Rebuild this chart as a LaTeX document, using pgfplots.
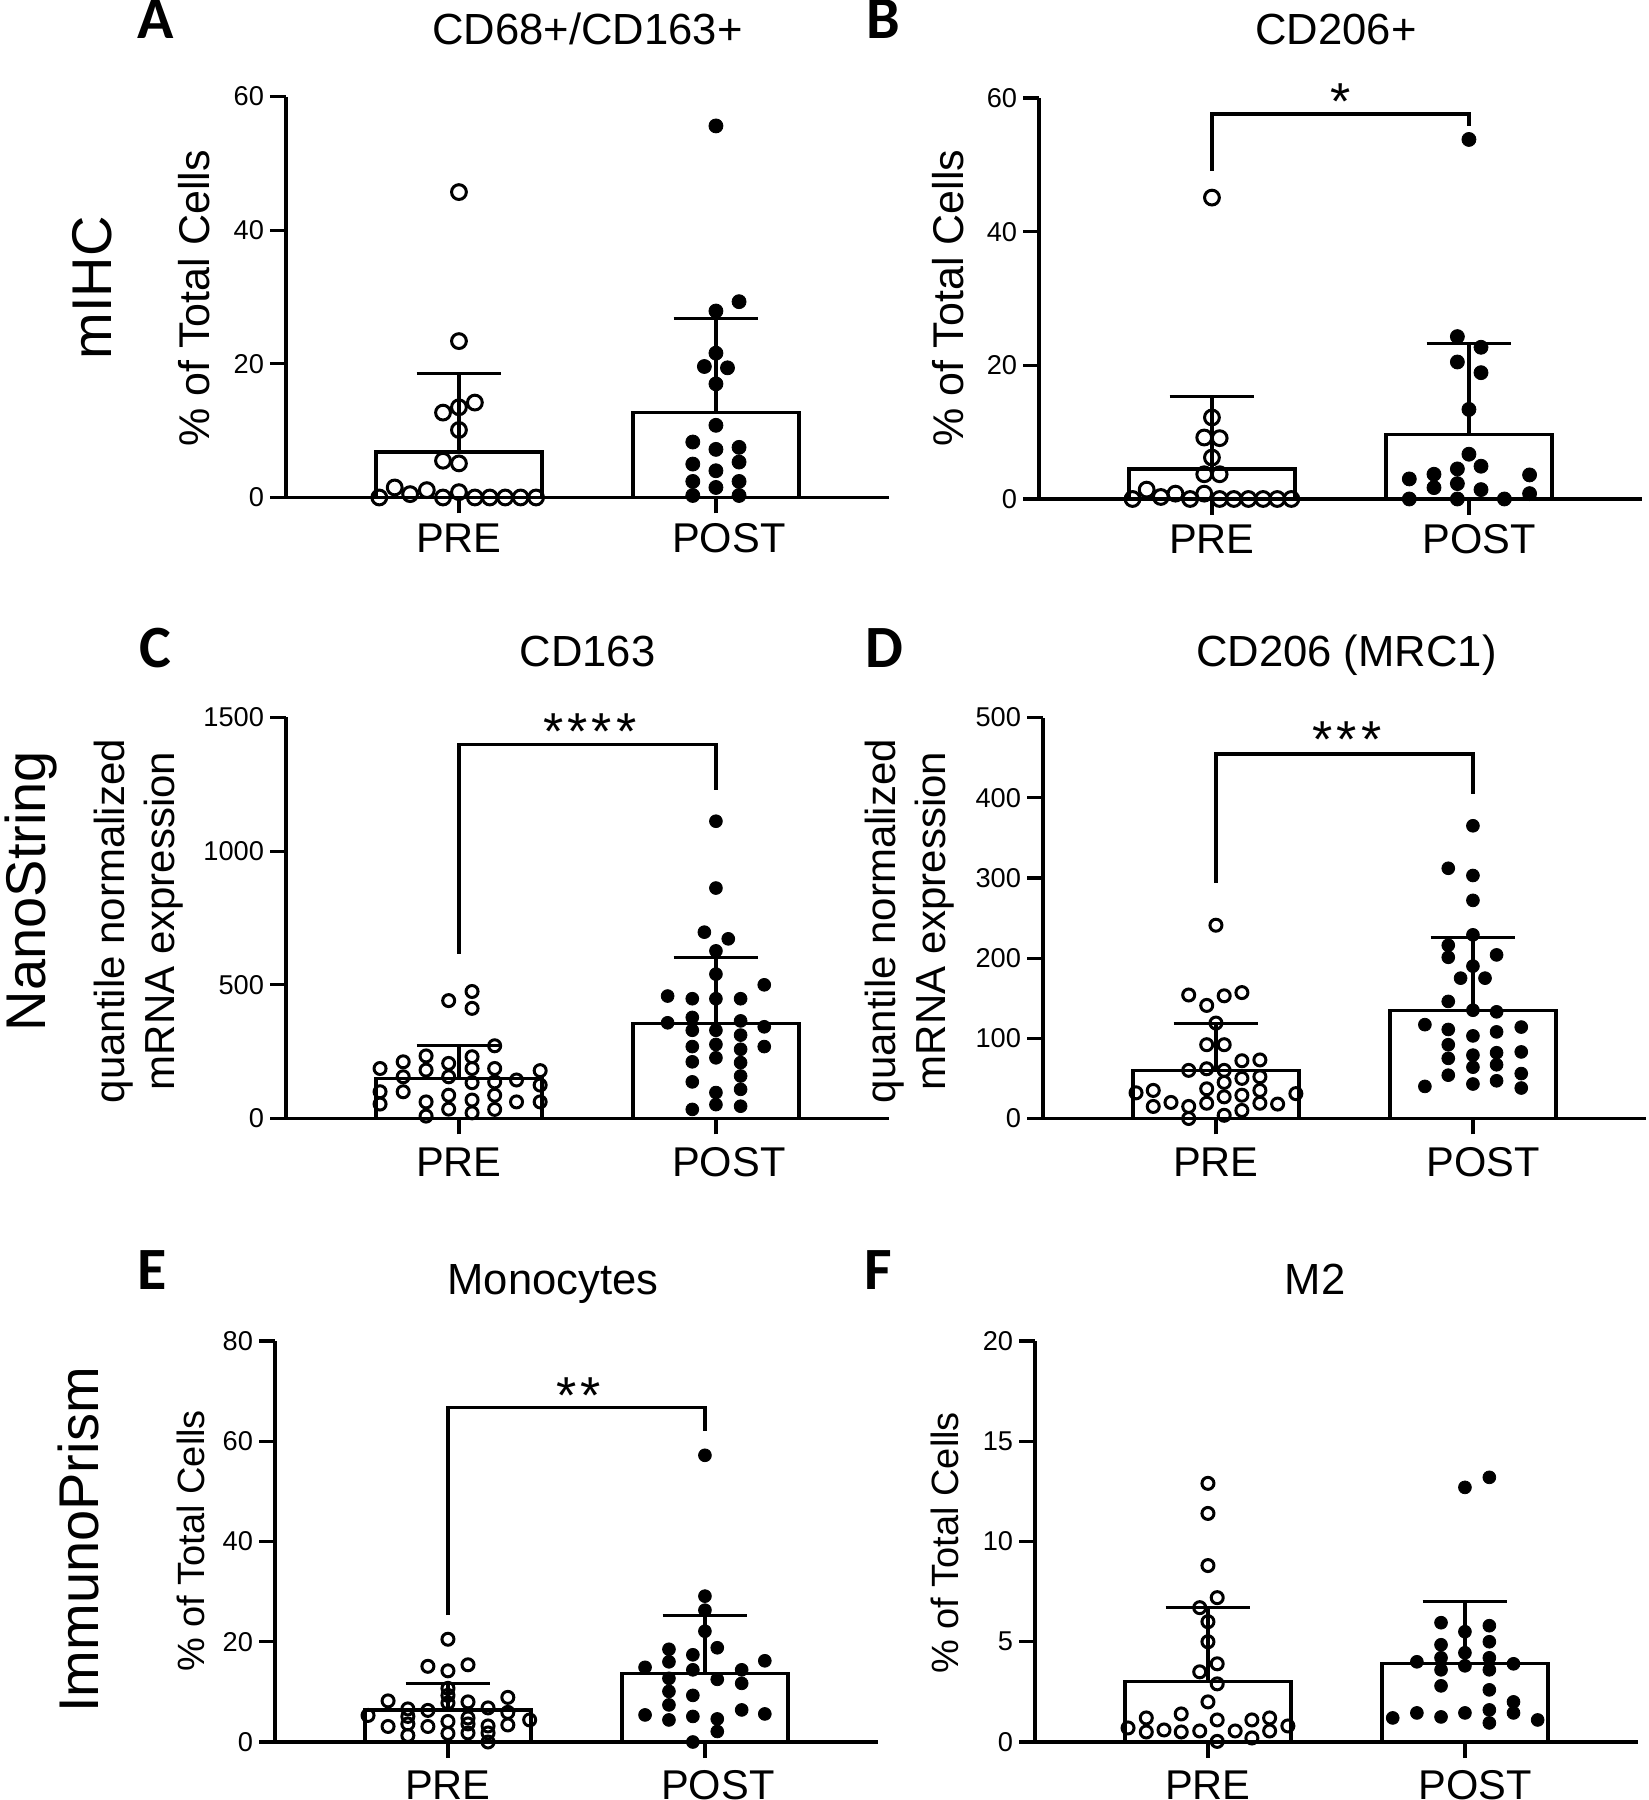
\documentclass[border=0pt]{standalone}
\usepackage{pgfplots}
\pgfplotsset{compat=1.18}
\usepackage{fontspec}
\setmainfont{Liberation Sans}
\newfontfamily\letterfont{Carlito}
\pgfplotsset{
 gp/.style={
  scale only axis, width=150.85pt, height=100.25pt, anchor=south west,
  xmin=-0.673, xmax=1.675, ymin=0,
  axis x line=bottom, axis y line=left,
  axis line style={-, line width=0.8pt, black},
  every outer x axis line/.append style={-},
  every outer y axis line/.append style={-},
  tick align=outside, major tick length=4pt,
  tick style={line width=0.8pt, black},
  xtick={0,1}, xticklabels={},
  yticklabel style={font=\fontsize{6.8}{8}\selectfont, inner sep=1.3pt},
  /pgf/number format/assume math mode=true,
  /pgf/number format/1000 sep={},
  clip=false,
 },
 gpbar/.style={ybar, bar width=41.5pt, fill=white, draw=black, line width=0.8pt},
 eb/.style={black, line width=0.8pt, no markers},
 openA/.style={only marks, mark=o, mark size=1.85pt, mark options={line width=0.75pt, draw=black}},
 fullA/.style={only marks, mark=*, mark size=1.75pt, mark options={line width=0.2pt, draw=black, fill=black}},
 openS/.style={only marks, mark=o, mark size=1.5pt, mark options={line width=0.75pt, draw=black}},
 fullS/.style={only marks, mark=*, mark size=1.6pt, mark options={line width=0.2pt, draw=black, fill=black}},
}
\tikzset{
 catAB/.style={anchor=base, yshift=-13.75pt, font=\fontsize{10.4}{12}\selectfont},
 cat/.style={anchor=base, yshift=-14.4pt, font=\fontsize{10.4}{12}\selectfont},
 star/.style={anchor=base, yshift=-7.5pt, font=\fontsize{13}{14}\selectfont, inner sep=0pt},
 ttl/.style={anchor=base, font=\fontsize{10.9}{12}\selectfont, inner sep=0pt},
 let/.style={anchor=base, font=\letterfont\bfseries\fontsize{15}{16}\selectfont, inner sep=0pt},
 row/.style={anchor=base, rotate=90, font=\fontsize{14}{16}\selectfont, inner sep=0pt},
}
\begin{document}
\begin{tikzpicture}
\useasboundingbox (0,0) rectangle (412.25pt,450pt);

% ---------------- A ----------------
\begin{axis}[gp, at={(71.5pt,325.625pt)}, ymax=60, ytick={0,20,40,60}]
\addplot[gpbar] coordinates {(0,6.8) (1,12.7)};
\addplot[openA] coordinates {(0,45.7) (0,23.4) (-0.062,12.7) (0,13.5) (0.062,14.2) (0,10.1) (-0.062,5.5) (0,5.1)
 (-0.31,0) (-0.25,1.5) (-0.19,0.5) (-0.125,1.1) (-0.062,0) (0,0.8) (0.062,0) (0.12,0) (0.18,0) (0.24,0) (0.30,0)};
\addplot[fullA] coordinates {(1,55.6) (1.09,29.3) (1,27.9) (1,21.6) (0.955,19.6) (1.045,19.4) (1,17.0) (1,10.8)
 (0.91,8.3) (1,7.2) (1.09,7.5) (0.91,5.0) (1.09,5.3) (1,4.0) (0.91,2.4) (1.09,2.4) (1,1.5) (0.91,0.3) (1.09,0.3)};
\addplot[eb] coordinates {(0,6.8) (0,18.6)};
\addplot[eb] coordinates {(-0.165,18.6) (0.165,18.6)};
\addplot[eb] coordinates {(1,12.7) (1,26.8)};
\addplot[eb] coordinates {(0.835,26.8) (1.165,26.8)};
\node[catAB] at (axis cs:0,0) {PRE};
\node[catAB] at (axis cs:1.05,0) {POST};
\end{axis}

% ---------------- B ----------------
\begin{axis}[gp, at={(259.75pt,325.25pt)}, ymax=60, ytick={0,20,40,60}]
\addplot[gpbar] coordinates {(0,4.5) (1,9.6)};
\addplot[openA] coordinates {(0,45.1) (0,12.2) (-0.03,9.2) (0.03,9.1) (0,6.2) (-0.03,3.7) (0.03,3.7)
 (-0.309,0) (-0.254,1.4) (-0.199,0.3) (-0.142,0.8) (-0.085,0) (-0.03,0.8) (0.03,0) (0.085,0) (0.142,0) (0.199,0) (0.254,0) (0.309,0)};
\addplot[fullA] coordinates {(1,53.8) (0.955,24.3) (1.047,22.7) (0.955,20.5) (1.047,18.9) (1,13.4) (1,6.7)
 (0.955,4.5) (1.047,4.9) (0.864,3.7) (1.236,3.6) (0.768,3.0) (0.955,2.3) (0.864,1.7) (1.047,1.4) (1.236,0.8)
 (0.768,0) (0.955,0) (1.138,0)};
\addplot[eb] coordinates {(0,4.5) (0,15.3)};
\addplot[eb] coordinates {(-0.165,15.3) (0.165,15.3)};
\addplot[eb] coordinates {(1,9.6) (1,23.3)};
\addplot[eb] coordinates {(0.835,23.3) (1.165,23.3)};
\addplot[eb] coordinates {(0,49.1) (0,57.6) (1,57.6) (1,55.8)};
\node[star] at (axis cs:0.5,61.3) {*};
\node[catAB] at (axis cs:0,0) {PRE};
\node[catAB] at (axis cs:1.04,0) {POST};
\end{axis}

% ---------------- C ----------------
\begin{axis}[gp, at={(71.5pt,170.375pt)}, ymax=1500, ytick={0,500,1000,1500}]
\addplot[gpbar] coordinates {(0,150) (1,356)};
\addplot[openS] coordinates {
 (-0.307,187) (-0.307,100) (-0.307,54)
 (-0.217,212) (-0.217,156) (-0.217,100)
 (-0.128,234) (-0.128,181) (-0.128,62) (-0.128,9)
 (-0.040,206) (-0.040,156) (-0.040,87) (-0.040,35) (-0.040,441)
 (0.051,231) (0.051,187) (0.051,134) (0.051,69) (0.051,21) (0.051,475) (0.051,412)
 (0.139,187) (0.139,137) (0.139,87) (0.139,34) (0.139,272)
 (0.224,144) (0.224,62)
 (0.316,179) (0.316,125) (0.316,62)};
\addplot[fullS] coordinates {(1,1112) (1,862) (0.955,697) (1.048,672) (1,627) (1,540) (1.188,500)
 (0.812,458) (0.908,448) (1,448) (1.096,448) (0.812,358) (0.908,378) (1.096,365) (1.188,343)
 (0.908,330) (1,330) (1.096,312) (0.908,269) (1,277) (1.096,259) (1.188,269)
 (0.908,212) (1,227) (1.096,209) (1.096,159) (0.908,137) (1.096,109) (1,97)
 (0.908,34) (1,52) (1.096,46)};
\addplot[eb] coordinates {(0,150) (0,272)};
\addplot[eb] coordinates {(-0.165,272) (0.165,272)};
\addplot[eb] coordinates {(1,356) (1,603)};
\addplot[eb] coordinates {(0.835,603) (1.165,603)};
\addplot[eb] coordinates {(0,616) (0,1400) (1,1400) (1,1230)};
\node[star] at (axis cs:0.51,1491) {*\kern1pt*\kern1pt*\kern1pt*};
\node[cat] at (axis cs:0,0) {PRE};
\node[cat] at (axis cs:1.05,0) {POST};
\end{axis}

% ---------------- D ----------------
\begin{axis}[gp, at={(260.75pt,170.375pt)}, ymax=500, ytick={0,100,200,300,400,500}]
\addplot[gpbar] coordinates {(0,60) (1,135)};
\addplot[openS] coordinates {(0,241) (-0.106,154) (-0.036,141) (0.032,153) (0.101,157) (0,119)
 (-0.036,92) (0.032,92) (0.101,72) (0.171,73) (-0.106,60) (-0.036,62) (0.032,60) (0.101,50) (0.171,52)
 (-0.311,32) (-0.244,35) (-0.036,37) (0.032,45) (0.171,35) (0.311,31)
 (-0.244,15) (-0.175,20) (-0.106,15) (-0.036,19) (0.032,27) (0.101,29) (0.171,19) (0.240,18)
 (-0.106,0) (0.032,4) (0.101,10)};
\addplot[fullS] coordinates {(1,365) (0.904,312) (1,303) (1,272) (1,229) (0.904,216) (0.904,201) (1.092,204)
 (1,190) (0.952,175) (1.047,175) (0.904,146) (1,135) (1.092,133) (0.813,117) (0.904,111) (1,103)
 (1.092,108) (1.188,114) (0.904,92) (1,79) (1.092,82) (1.188,83) (0.904,75) (1,64) (1.092,67)
 (0.904,54) (1.188,56) (0.813,40) (1,43) (1.092,47) (1.188,38)};
\addplot[eb] coordinates {(0,60) (0,118)};
\addplot[eb] coordinates {(-0.165,118) (0.165,118)};
\addplot[eb] coordinates {(1,135) (1,226)};
\addplot[eb] coordinates {(0.835,226) (1.165,226)};
\addplot[eb] coordinates {(0,294) (0,454.5) (1,454.5) (1,405)};
\node[star] at (axis cs:0.51,487) {*\kern1pt*\kern1pt*};
\node[cat] at (axis cs:0,0) {PRE};
\node[cat] at (axis cs:1.04,0) {POST};
\end{axis}

% ---------------- E ----------------
\begin{axis}[gp, at={(68.75pt,14.5pt)}, ymax=80, ytick={0,20,40,60,80}]
\addplot[gpbar] coordinates {(0,6.4) (1,13.6)};
\addplot[openS] coordinates {(0,20.5) (-0.078,15.1) (0,14.2) (0.078,15.4) (0,10.7) (-0.233,8.2) (0.233,8.9)
 (0,9.3) (0.078,8.0) (-0.156,6.6) (-0.078,6.3) (0.156,6.8) (0.233,5.9) (-0.311,5.3) (-0.156,5.1)
 (0,7.8) (0.078,4.8) (0.318,4.4) (-0.233,3.1) (-0.156,3.6) (-0.078,3.1) (0,4.1) (0.078,3.6)
 (0.156,3.2) (0.233,3.4) (-0.156,1.3) (0,1.7) (0.078,1.8) (0.156,1.8) (0.156,0)};
\addplot[fullS] coordinates {(1,57.2) (1,29.1) (1,26.3) (1,22.1) (1.048,18.8) (0.860,18.5) (0.953,17.4)
 (0.860,16.0) (1.233,16.2) (0.767,14.9) (0.953,14.4) (1.143,14.4) (0.860,12.7) (1.048,12.5)
 (1.143,11.7) (0.860,10.1) (0.953,9.3) (0.860,7.4) (1.143,6.4) (0.767,5.4) (0.860,4.4)
 (0.953,5.1) (1.233,5.6) (1.048,4.6) (1.048,2.1) (0.953,0)};
\addplot[eb] coordinates {(0,6.4) (0,11.6)};
\addplot[eb] coordinates {(-0.165,11.6) (0.165,11.6)};
\addplot[eb] coordinates {(1,13.6) (1,25.3)};
\addplot[eb] coordinates {(0.835,25.3) (1.165,25.3)};
\addplot[eb] coordinates {(0,25.3) (0,66.7) (1,66.7) (1,62.0)};
\node[star] at (axis cs:0.51,71.6) {*\kern1pt*};
\node[cat] at (axis cs:0,0) {PRE};
\node[cat] at (axis cs:1.05,0) {POST};
\end{axis}

% ---------------- F ----------------
\begin{axis}[gp, at={(258.75pt,14.5pt)}, ymax=20, ytick={0,5,10,15,20}]
\addplot[gpbar] coordinates {(0,3.0) (1,3.9)};
\addplot[openS] coordinates {(0,12.9) (0,11.4) (0,8.8) (0.036,7.2) (-0.032,6.7) (0,6.0) (0,5.0)
 (0.036,3.9) (-0.032,3.5) (0.036,2.9) (0,2.0) (-0.240,1.2) (-0.104,1.4) (0.036,1.1) (0.171,1.1)
 (0.240,1.2) (-0.311,0.7) (-0.240,0.5) (-0.171,0.6) (-0.104,0.5) (-0.032,0.55) (0.106,0.55)
 (0.240,0.55) (0.311,0.8) (0.036,0.03) (0.171,0.2)};
\addplot[fullS] coordinates {(1,12.7) (1.095,13.2) (0.907,5.95) (1.095,5.8) (1,5.5) (0.907,4.85)
 (1.095,5.0) (1,4.45) (0.907,4.2) (1.095,4.2) (0.813,4.0) (1.189,3.9) (0.907,3.6) (1,3.8)
 (1.095,3.6) (0.907,2.8) (1.095,2.6) (1.189,2.0) (1.095,1.6) (1.189,1.45) (0.719,1.2)
 (0.813,1.45) (0.907,1.25) (1,1.45) (1.095,0.95) (1.283,1.1)};
\addplot[eb] coordinates {(0,3.0) (0,6.7)};
\addplot[eb] coordinates {(-0.165,6.7) (0.165,6.7)};
\addplot[eb] coordinates {(1,3.9) (1,7.0)};
\addplot[eb] coordinates {(0.835,7.0) (1.165,7.0)};
\node[cat] at (axis cs:0,0) {PRE};
\node[cat] at (axis cs:1.04,0) {POST};
\end{axis}

% ---------------- texts ----------------
\node[let] at (39pt,440.25pt) {A};
\node[let] at (220.75pt,440.25pt) {B};
\node[let] at (38.75pt,283pt) {C};
\node[let] at (221.1pt,283pt) {D};
\node[let] at (38pt,127.5pt) {E};
\node[let] at (219.5pt,127.5pt) {F};

\node[ttl] at (146.9pt,438.75pt) {CD68+/CD163+};
\node[ttl] at (334pt,438.75pt) {CD206+};
\node[ttl] at (146.9pt,283.25pt) {CD163};
\node[ttl] at (336.6pt,283.25pt) {CD206 (MRC1)};
\node[ttl] at (138.25pt,126.25pt) {Monocytes};
\node[ttl] at (328.75pt,126.25pt) {M2};

\node[row] at (27.75pt,378pt) {mIHC};
\node[row] at (11.25pt,227.25pt) {NanoString};
\node[row] at (24.5pt,65pt) {ImmunoPrism};

\node[anchor=base, rotate=90, inner sep=0pt, font=\fontsize{10.75}{12}\selectfont] at (52.25pt,375.4pt) {\% of Total Cells};
\node[anchor=base, rotate=90, inner sep=0pt, font=\fontsize{10.75}{12}\selectfont] at (240.75pt,375.5pt) {\% of Total Cells};
\node[anchor=base, rotate=90, inner sep=0pt, font=\fontsize{9.5}{11}\selectfont] at (51pt,64.75pt) {\% of Total Cells};
\node[anchor=base, rotate=90, inner sep=0pt, font=\fontsize{9.5}{11}\selectfont] at (239.5pt,64.25pt) {\% of Total Cells};
\node[anchor=center, rotate=90, inner sep=0pt, align=center, font=\fontsize{10.5}{12.5}\selectfont] at (34.75pt,219.75pt) {quantile normalized\\mRNA expression};
\node[anchor=center, rotate=90, inner sep=0pt, align=center, font=\fontsize{10.5}{12.5}\selectfont] at (227.5pt,219.75pt) {quantile normalized\\mRNA expression};
\end{tikzpicture}
\end{document}
